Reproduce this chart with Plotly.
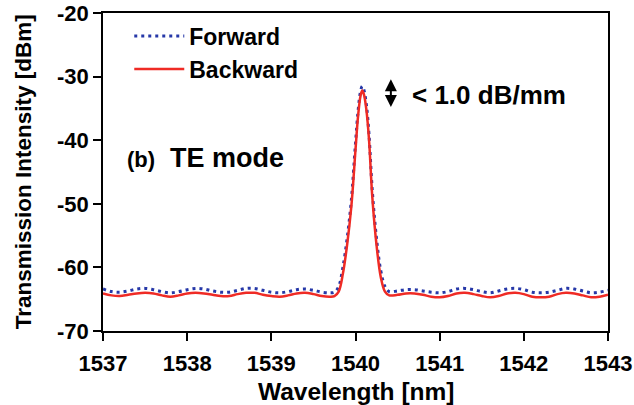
import plotly.graph_objects as go

# Wavelength sample points [nm]
wl = [1537.0, 1537.1, 1537.2, 1537.3, 1537.4, 1537.5, 1537.6, 1537.7, 1537.8, 1537.9,
      1538.0, 1538.1, 1538.2, 1538.3, 1538.4, 1538.5, 1538.6, 1538.7, 1538.8, 1538.9,
      1539.0, 1539.1, 1539.2, 1539.3, 1539.4, 1539.5, 1539.6, 1539.7, 1539.75, 1539.8,
      1539.85, 1539.9, 1539.95, 1540.0, 1540.03, 1540.06, 1540.08, 1540.1, 1540.13, 1540.16,
      1540.2, 1540.25, 1540.3, 1540.35, 1540.4, 1540.5, 1540.6, 1540.7, 1540.8, 1540.9,
      1541.0, 1541.1, 1541.2, 1541.3, 1541.4, 1541.5, 1541.6, 1541.7, 1541.8, 1541.9,
      1542.0, 1542.1, 1542.2, 1542.3, 1542.4, 1542.5, 1542.6, 1542.7, 1542.8, 1542.9,
      1543.0]

forward = [-63.4, -63.8, -63.9, -63.7, -63.4, -63.3, -63.5, -63.8, -64.0, -63.8,
           -63.5, -63.3, -63.4, -63.7, -63.9, -63.9, -63.6, -63.3, -63.3, -63.6,
           -63.9, -64.0, -63.8, -63.5, -63.4, -63.6, -63.9, -64.0, -63.9, -63.0,
           -60.0, -55.5, -49.5, -40.5, -35.5, -32.3, -31.5, -32.1, -34.5, -39.0,
           -48.0, -55.5, -60.5, -63.0, -63.8, -63.7, -63.5, -63.5, -63.7, -63.9,
           -64.0, -63.8, -63.4, -63.3, -63.5, -63.8, -64.0, -63.7, -63.4, -63.3,
           -63.5, -63.9, -64.0, -63.9, -63.6, -63.3, -63.4, -63.7, -64.0, -63.9,
           -63.6]

backward = [-64.1, -64.4, -64.5, -64.3, -64.1, -64.0, -64.1, -64.4, -64.6, -64.4,
            -64.1, -64.0, -64.1, -64.3, -64.5, -64.5, -64.2, -64.0, -64.0, -64.3,
            -64.5, -64.6, -64.4, -64.1, -64.0, -64.2, -64.5, -64.6, -64.5, -63.8,
            -61.0, -56.5, -50.5, -41.5, -36.3, -33.0, -32.2, -32.8, -35.3, -39.8,
            -49.0, -56.5, -61.5, -63.8, -64.4, -64.3, -64.1, -64.1, -64.3, -64.6,
            -64.7, -64.5, -64.1, -64.0, -64.2, -64.5, -64.7, -64.5, -64.1, -64.0,
            -64.2, -64.6, -64.7, -64.6, -64.2, -64.0, -64.1, -64.4, -64.7, -64.6,
            -64.3]

x_ticks = [1537, 1538, 1539, 1540, 1541, 1542, 1543]
y_ticks = [-70, -60, -50, -40, -30, -20]

FONT = "Liberation Sans, Arial, sans-serif"

fig = go.Figure()
fig.add_trace(go.Scatter(x=wl, y=forward, mode="lines", name="Forward",
                         line=dict(color="#2638a8", width=3, dash="3px,4px", shape="spline")))
fig.add_trace(go.Scatter(x=wl, y=backward, mode="lines", name="Backward",
                         line=dict(color="#ef2b25", width=2.5, shape="spline")))

axis_common = dict(showline=True, linecolor="black", linewidth=1.5, mirror=True,
                   ticks="outside", ticklen=8, tickwidth=1.5, tickcolor="black",
                   showgrid=False, zeroline=False, automargin=False,
                   tickfont=dict(family=FONT, size=22, color="black", weight="bold"))

fig.update_xaxes(range=[1537, 1543], tickvals=x_ticks, ticklabelstandoff=4,
                 ticktext=[str(v) for v in x_ticks], **axis_common)
fig.update_yaxes(range=[-70, -20], tickvals=y_ticks,
                 ticktext=[str(v) for v in y_ticks], **axis_common)

fig.update_layout(
    width=634, height=405,
    margin=dict(l=103, r=26, t=13, b=74),
    plot_bgcolor="white", paper_bgcolor="white",
    legend=dict(x=0.052, y=0.995, xanchor="left", yanchor="top",
                bgcolor="rgba(0,0,0,0)", tracegroupgap=0, itemwidth=50,
                font=dict(family=FONT, size=23, color="black", weight="bold")),
    annotations=[
        dict(x=0.5, y=-0.19, xref="paper", yref="paper", xanchor="center",
             yanchor="middle", text="Wavelength [nm]", showarrow=False,
             font=dict(family=FONT, size=24.5, color="black", weight="bold")),
        dict(x=-0.158, y=0.5, xref="paper", yref="paper", xanchor="center",
             yanchor="middle", text="Transmission Intensity [dBm]", showarrow=False,
             textangle=-90,
             font=dict(family=FONT, size=22.5, color="black", weight="bold")),
        dict(x=0.043, y=0.544, xref="paper", yref="paper", xanchor="left", yanchor="middle",
             text="<span style='font-size:22px'>(b)</span>  TE mode", showarrow=False,
             font=dict(family=FONT, size=27, color="black", weight="bold")),
        dict(x=0.608, y=0.742, xref="paper", yref="paper", xanchor="left", yanchor="middle",
             text="< 1.0 dB/mm", showarrow=False,
             font=dict(family=FONT, size=26, color="black", weight="bold")),
        dict(x=1540.42, y=-30.4, xref="x", yref="y", ax=1540.42, ay=-35.0,
             axref="x", ayref="y",
             text="", showarrow=True, arrowhead=2, arrowside="end+start",
             arrowsize=1.2, arrowwidth=2, arrowcolor="black"),
    ],
)

# remove the browser's default 8 px body margin so the figure fills the window
fig.write_html("out.html", config={"displayModeBar": False},
               post_script="document.body.style.margin='0';")
